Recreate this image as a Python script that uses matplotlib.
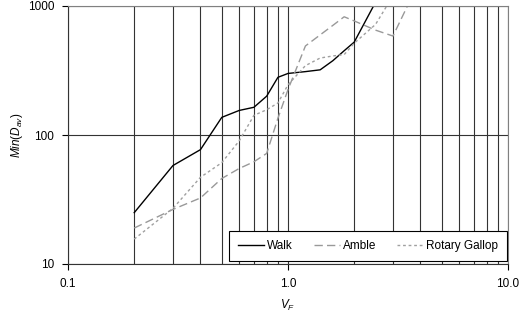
import numpy as np
import matplotlib
matplotlib.use('Agg')
import matplotlib.pyplot as plt
from matplotlib.ticker import FixedLocator, FixedFormatter, NullFormatter

plt.rcParams['font.family'] = ['Liberation Sans', 'DejaVu Sans']
plt.rcParams['font.size'] = 8.5
plt.rcParams['mathtext.fontset'] = 'custom'
plt.rcParams['mathtext.rm'] = 'Liberation Sans'
plt.rcParams['mathtext.it'] = 'Liberation Sans:italic'

# Froude number vs minimum average D for each gait
walk_vf = [0.2, 0.3, 0.4, 0.5, 0.6, 0.7, 0.8, 0.9, 1.0, 1.2, 1.4, 1.6, 1.8, 2.0, 2.5]
walk = [25, 58, 77, 137, 155, 164, 200, 280, 300, 310, 320, 377, 450, 525, 1070]

amble_vf = [0.2, 0.3, 0.4, 0.5, 0.6, 0.7, 0.8, 0.9, 1.0, 1.2, 1.4, 1.6, 1.8, 2.0, 2.5, 3.0, 3.5]
amble = [19, 26.5, 32.5, 46, 55, 62, 72, 135, 225, 490, 597, 708, 825, 766, 650, 585, 1010]

gallop_vf = [0.2, 0.3, 0.4, 0.5, 0.6, 0.7, 0.8, 0.9, 1.0, 1.2, 1.4, 1.6, 1.8, 2.0, 2.5, 3.0]
gallop = [15.6, 27, 47, 61, 90, 142, 157, 177, 245, 345, 395, 410, 420, 515, 720, 1200]

x_ticks = [0.1, 1.0, 10.0]
x_labels = ['0.1', '1.0', '10.0']
y_ticks = [10, 100, 1000]
y_labels = ['10', '100', '1000']

fig = plt.figure(figsize=(5.31, 3.2), dpi=100)
ax = fig.add_axes([68/531, 1-264/320, 440/531, 258/320])

ax.plot(walk_vf, walk, color='black', lw=1.0, label='Walk')
ax.plot(amble_vf, amble, color='#999999', lw=1.0, dashes=(6, 3), label='Amble')
ax.plot(gallop_vf, gallop, color='#a0a0a0', lw=1.0, dashes=(2, 2), label='Rotary Gallop')

ax.set_xscale('log')
ax.set_yscale('log')
ax.set_xlim(0.1, 10)
ax.set_ylim(10, 1000)

ax.xaxis.set_major_locator(FixedLocator(x_ticks))
ax.xaxis.set_major_formatter(FixedFormatter(x_labels))
ax.xaxis.set_minor_formatter(NullFormatter())
ax.yaxis.set_major_locator(FixedLocator(y_ticks))
ax.yaxis.set_major_formatter(FixedFormatter(y_labels))
ax.yaxis.set_minor_locator(FixedLocator([]))

ax.tick_params(which='major', direction='out', length=4, width=0.8, pad=6)
ax.tick_params(which='minor', length=0)

ax.grid(which='both', axis='x', color='#333333', lw=0.8)
ax.grid(which='major', axis='y', color='#333333', lw=0.8)
ax.set_axisbelow(True)

for s in ['left', 'bottom']:
    ax.spines[s].set_color('#333333')
for s in ['top', 'right']:
    ax.spines[s].set_color('#808080')

ax.set_xlabel(r'$V_F$', labelpad=6)
ax.set_ylabel(r'$Min(D_{av})$', labelpad=2)

leg = ax.legend(loc='lower right', bbox_to_anchor=(0.998, 0.012), ncol=3,
                frameon=True, fancybox=False, framealpha=1, edgecolor='black',
                handlelength=2.2, handletextpad=0.25, columnspacing=1.8,
                borderpad=0.75, borderaxespad=0)
leg.get_frame().set_linewidth(0.8)

fig.savefig('out.png', dpi=100)
